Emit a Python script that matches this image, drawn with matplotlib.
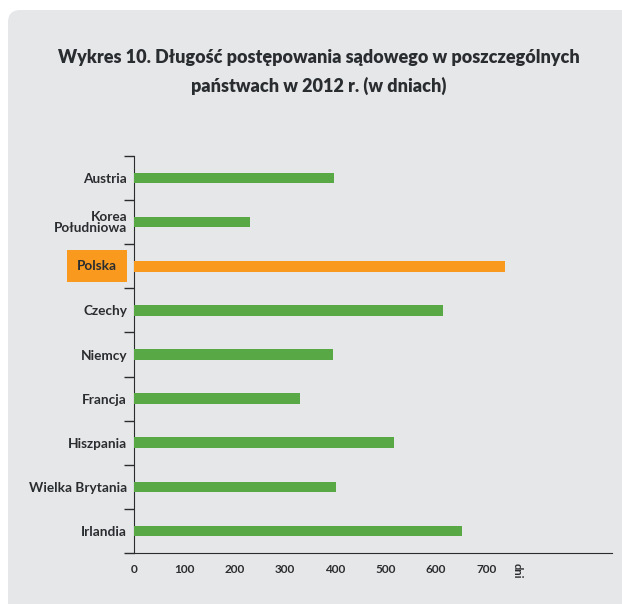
import numpy as np
import matplotlib
matplotlib.use('Agg')
import matplotlib.pyplot as plt
from matplotlib.patches import FancyBboxPatch

countries = ['Austria', 'Korea\nPołudniowa', 'Polska', 'Czechy', 'Niemcy',
             'Francja', 'Hiszpania', 'Wielka Brytania', 'Irlandia']
days = [397, 230, 738, 614, 395, 329, 516, 401, 652]
xticks = [0, 100, 200, 300, 400, 500, 600, 700]
highlight = 'Polska'

green = '#58a845'
orange = '#f99a1f'
dark = '#2a2d30'
bg = '#e6e7e8'

W, H = 622, 604
fig = plt.figure(figsize=(W / 100, H / 100), dpi=100)

# rounded grey panel
panel = FancyBboxPatch((8 / W, -20 / H), 660 / W, (H - 10 + 20) / H,
                       boxstyle='round,pad=0,rounding_size=0.02',
                       transform=fig.transFigure, facecolor=bg, edgecolor='none',
                       zorder=-10)
fig.patches.append(panel)

fig.text(319 / W, 1 - 57 / H,
         'Wykres 10. Długość postępowania sądowego w poszczególnych',
         ha='center', va='center', fontsize=13.0, fontweight='heavy',
         family='Lato', color=dark)
fig.text(319 / W, 1 - 86 / H, 'państwach w 2012 r. (w dniach)',
         ha='center', va='center', fontsize=13.0, fontweight='heavy',
         family='Lato', color=dark)

ax = fig.add_axes([134 / W, 51 / H, 478 / W, 397 / H])
ax.set_facecolor('none')

n = len(countries)
ypos = np.arange(n)
colors = [orange if c == highlight else green for c in countries]
ax.barh(ypos, days, height=0.24, color=colors, zorder=3)

ax.set_xlim(0, 950)
ax.set_ylim(n - 0.5, -0.5)

for s in ['top', 'right']:
    ax.spines[s].set_visible(False)
ax.spines['left'].set_color(dark)
ax.spines['bottom'].set_color(dark)

# ticks between categories on y axis
ax.set_yticks(np.arange(-0.5, n, 1.0), minor=False)
ax.set_yticklabels([])
ax.tick_params(axis='y', length=7, width=1.0, color=dark, direction='out')
ax.set_yticks(ypos, minor=True)
ax.set_yticklabels(['' if c == highlight else c for c in countries], minor=True,
                   fontsize=9.8, fontweight='bold', family='Lato', color=dark,
                   linespacing=0.85)
ax.tick_params(axis='y', which='minor', length=0, pad=5)
for lab in ax.get_yticklabels(minor=True):
    lab.set_multialignment('right')

# highlighted label with orange box
ax.annotate(highlight, xy=(0, countries.index(highlight)),
            xycoords=('axes fraction', 'data'), xytext=(-17, 0),
            textcoords='offset pixels', ha='right', va='center',
            fontsize=9.8, fontweight='bold', family='Lato', color=dark,
            bbox=dict(boxstyle='square,pad=0.75', facecolor=orange,
                      edgecolor='none'), annotation_clip=False)

ax.set_xticks(xticks)
ax.set_xticklabels([str(t) for t in xticks], fontsize=8.5, fontweight='bold',
                   family='Lato', color=dark)
ax.tick_params(axis='x', length=0, pad=8)

ax.text(762, -0.025, 'dni', transform=ax.get_xaxis_transform(), rotation=-90,
        fontsize=8, fontweight='bold', family='Lato', color=dark,
        ha='center', va='top')

fig.savefig('out.png', dpi=100)
